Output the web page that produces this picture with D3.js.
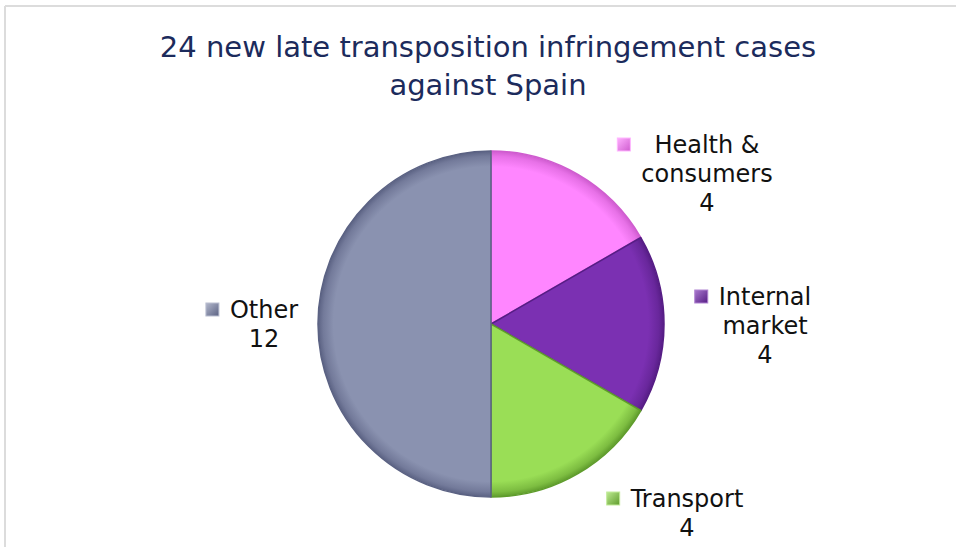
<!DOCTYPE html>
<html>
<head>
<meta charset="utf-8">
<script src="https://cdn.jsdelivr.net/npm/d3@7"></script>
<style>
  html, body { margin: 0; padding: 0; background: #fff; }
  svg text { font-family: "DejaVu Sans", Verdana, sans-serif; }
</style>
</head>
<body>
<div id="chart"></div>
<script>
// chart data
var titleLines = ["24 new late transposition infringement cases", "against Spain"];
var categories = ["Health & consumers", "Internal market", "Transport", "Other"];
var labelLines = [["Health &", "consumers"], ["Internal", "market"], ["Transport"], ["Other"]];
var values = [4, 4, 4, 12];

// look
var fills = ["#ff86ff", "#7b30b2", "#9ade56", "#8a92b0"];
var rims  = ["#cf5ccf", "#561d85", "#5f9c2c", "#5b6283"];
// label anchor (centre x, first baseline) relative to pie centre
var labelPos = [[216, -171], [274, -19], [196, 183], [-227, -6]];

var width = 956, height = 547;
var cx = 491, cy = 324, radius = 173;

var svg = d3.select('#chart').append('svg')
            .attr('width', width).attr('height', height);

// frame lines (top and left only)
svg.append('line').attr('x1', 5).attr('y1', 6).attr('x2', width).attr('y2', 6)
   .attr('stroke', '#dcdcdc').attr('stroke-width', 2);
svg.append('line').attr('x1', 5).attr('y1', 6).attr('x2', 5).attr('y2', height)
   .attr('stroke', '#dcdcdc').attr('stroke-width', 2);

svg.append('g').selectAll('text').data(titleLines).enter()
   .append('text')
   .attr('x', 488).attr('y', function(d, i) { return 57 + i * 38; })
   .attr('text-anchor', 'middle')
   .attr('font-size', 29)
   .attr('fill', '#1c2b5c')
   .text(function(d) { return d; });

var defs = svg.append('defs');
categories.forEach(function(c, i) {
  // gradient lives in the pie group's coordinates (centre at 0,0)
  var g = defs.append('radialGradient').attr('id', 'sl' + i)
              .attr('gradientUnits', 'userSpaceOnUse')
              .attr('cx', 0).attr('cy', 0).attr('r', radius);
  g.append('stop').attr('offset', '0%').attr('stop-color', fills[i]);
  g.append('stop').attr('offset', '91%').attr('stop-color', fills[i]);
  g.append('stop').attr('offset', '97%').attr('stop-color', d3.interpolateRgb(fills[i], rims[i])(0.5));
  g.append('stop').attr('offset', '100%').attr('stop-color', rims[i]);

  var k = defs.append('linearGradient').attr('id', 'key' + i)
              .attr('x1', 0).attr('y1', 0).attr('x2', 1).attr('y2', 1);
  k.append('stop').attr('offset', '0%').attr('stop-color', d3.interpolateRgb(fills[i], '#fff')(0.35));
  k.append('stop').attr('offset', '100%').attr('stop-color', rims[i]);
});

var pie = d3.pie().sort(null).value(function(d) { return d; });
var arcs = pie(values);
var arc = d3.arc().innerRadius(0).outerRadius(radius);

var pieG = svg.append('g').attr('transform', 'translate(' + cx + ',' + cy + ')');

pieG.selectAll('path').data(arcs).enter()
    .append('path')
    .attr('d', arc)
    .attr('fill', function(d, i) { return 'url(#sl' + i + ')'; })
    .attr('stroke', function(d, i) { return rims[i]; })
    .attr('stroke-width', 1.5)
    .attr('stroke-linejoin', 'round');

// labels
var labels = pieG.selectAll('.lbl').data(arcs).enter()
    .append('g').classed('lbl', true)
    .attr('transform', function(d, i) { return 'translate(' + labelPos[i][0] + ',' + labelPos[i][1] + ')'; });

labels.each(function(d, i) {
  var g = d3.select(this);
  var lines = labelLines[i].concat([String(values[i])]);
  var minX = 0;
  lines.forEach(function(t, j) {
    var tx = g.append('text')
      .attr('x', 0).attr('y', j * 29)
      .attr('text-anchor', 'middle')
      .attr('font-size', 24)
      .attr('fill', '#111')
      .text(t);
    if (j < lines.length - 1) {
      var w = tx.node().getComputedTextLength();
      minX = Math.min(minX, -w / 2);
    }
  });
  g.append('rect')
    .attr('x', minX - 11 - 13).attr('y', -15)
    .attr('width', 13).attr('height', 13)
    .attr('fill', 'url(#key' + i + ')')
    .attr('stroke', d3.interpolateRgb(fills[i], '#fff')(0.4))
    .attr('stroke-width', 1);
});
</script>
</body>
</html>
